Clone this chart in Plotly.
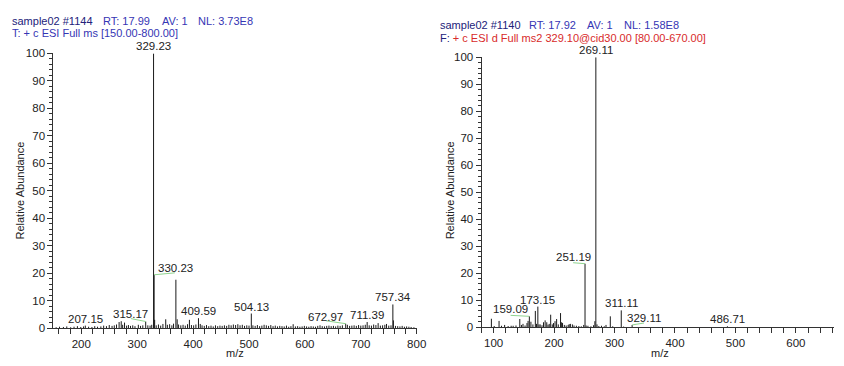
import plotly.graph_objects as go

# ---------------- data ----------------
left_mz = [155, 161, 168, 174, 181, 187, 193, 199, 204, 207.15, 213, 219, 224, 229, 235, 240, 245, 250,
           255, 259, 263, 267.6, 271.4, 274, 277.3, 281, 284.3, 288, 292, 296, 302, 306, 310, 315.17, 319,
           323, 326, 329.23, 330.23, 331.2, 334, 338, 342, 346, 351, 354, 358, 362, 365, 369.2, 371.5, 374,
           378, 382, 386, 390, 393.4, 397, 401, 405, 409.59, 412.8, 416, 420, 424, 428, 432, 436, 440, 444,
           448, 452, 456, 460, 464, 468, 472, 476, 480, 484, 488, 492, 496, 500, 504.13, 507, 511, 515, 519,
           523, 527, 531, 535, 539, 543, 547, 551, 555, 559, 563, 567, 571, 575, 579, 583, 587, 591, 595,
           599, 603, 607, 611, 615, 619, 623, 627, 631, 635, 639, 643, 647, 651, 655, 659, 663, 667, 672.97,
           676, 680, 684, 688, 692, 696, 700, 704, 708, 711.39, 715, 719, 723, 727, 731, 735, 739, 743, 746,
           750, 754, 757.34, 758.34, 762, 766, 770, 774, 778, 782, 786, 790, 795]
left_int = [0.3, 0.5, 0.4, 0.6, 0.3, 0.5, 0.7, 0.4, 0.6, 0.9, 0.5, 0.4, 0.7, 0.5, 0.6, 0.9, 0.7, 1.1,
            0.8, 1.0, 1.3, 2.2, 2.5, 1.2, 2.0, 0.9, 1.1, 0.8, 1.0, 0.7, 1.2, 0.8, 1.0, 2.4, 1.0,
            0.9, 1.2, 100, 19.4, 3.0, 1.0, 1.3, 0.9, 1.5, 3.2, 1.2, 1.4, 1.0, 1.6, 17.6, 3.2, 1.3,
            1.0, 1.2, 0.9, 1.4, 3.0, 1.1, 1.0, 1.3, 3.6, 1.5, 1.0, 0.8, 1.1, 0.7, 0.9, 0.6, 1.0, 0.7,
            0.9, 0.8, 1.0, 0.8, 1.2, 1.0, 1.3, 1.1, 1.4, 1.0, 1.2, 0.8, 1.0, 0.9, 5.3, 1.0, 0.8, 1.1, 0.7,
            0.9, 1.2, 1.0, 0.8, 1.1, 0.7, 0.9, 0.6, 0.8, 0.7, 0.6, 0.9, 0.5, 0.7, 1.4, 0.6, 0.7, 0.5, 0.6,
            0.8, 0.6, 0.5, 0.7, 0.6, 0.5, 0.8, 1.0, 0.7, 0.6, 0.8, 0.9, 0.7, 0.8, 0.6, 0.9, 0.8, 1.0, 1.6,
            1.2, 0.8, 0.9, 1.0, 0.8, 1.1, 0.9, 1.0, 1.2, 2.2, 1.0, 0.9, 1.3, 1.1, 1.8, 0.9, 1.0, 1.2, 1.5,
            0.9, 1.0, 8.6, 2.8, 0.8, 0.7, 0.6, 0.8, 0.5, 0.6, 0.5, 0.4, 0.3]
left_labels = [329.23, 330.23, 207.15, 315.17, 409.59, 504.13, 672.97, 711.39, 757.34]

right_mz = [96.3, 101, 109, 113, 118.2, 124, 129, 132.3, 137, 143.3, 146, 148.6, 152, 155.2, 157, 159.09,
            161.7, 165, 169, 171, 173.15, 175, 177, 180, 182.5, 185.2, 187.9, 190, 192, 194.4, 197, 199,
            201.6, 204.2, 207, 210.7, 212.5, 214, 217, 220, 223.3, 225, 227, 230.3, 233, 236.9, 241, 245,
            249, 251.19, 253, 256, 261, 265.3, 267.5, 269.11, 271, 274, 278.4, 283, 285.9, 293, 297, 311.11,
            315, 329.11, 486.71]
right_int = [3.1, 0.4, 2.3, 0.5, 0.8, 0.4, 0.5, 0.5, 0.6, 3.0, 0.8, 1.2, 0.6, 1.5, 2.3, 4.0,
             2.0, 1.0, 6.0, 1.2, 7.6, 1.0, 1.0, 0.7, 1.8, 2.5, 1.8, 0.9, 1.2, 4.6, 1.0, 1.5,
             2.2, 3.0, 1.0, 5.2, 1.8, 1.5, 0.8, 0.6, 0.8, 1.1, 1.2, 1.0, 0.6, 0.5, 0.4, 0.3,
             0.8, 23.5, 0.6, 0.5, 0.3, 0.7, 2.2, 100, 1.0, 0.4, 0.5, 0.3, 0.8, 4.0, 0.3, 6.2,
             0.2, 0.8, 0.3]
right_labels = [269.11, 251.19, 173.15, 159.09, 311.11, 329.11, 486.71]

left_header = ["sample02 #1144", "RT: 17.99", "AV: 1", "NL: 3.73E8"]
left_scan = "T: + c ESI Full ms [150.00-800.00]"
right_header = ["sample02 #1140", "RT: 17.92", "AV: 1", "NL: 1.58E8"]
right_scan = ("F:", "+ c ESI d Full ms2 329.10@cid30.00 [80.00-670.00]")

x_ticks_step = 100
x_minor_step = 20
y_ticks_step = 10
y_minor_step = 2

# ---------------- styles ----------------
W, H = 844, 366
FONT = "Liberation Sans, Arial, sans-serif"
AXC = "#333333"
left_off = {330.23: (21, 0, 2), 315.17: (-15, 0, 3), 672.97: (-20, 0, 3)}
right_off = {251.19: (-12, 0, 1), 159.09: (-19, 0, 1), 329.11: (12, 0, 2)}

L_DOM = (54, 421.7, 333, 49)   # px: x0, x1, ybottom, ytop
R_DOM = (487.3, 844, 332, 53)
L_RANGE = [150, 800]
R_RANGE = [80, 663]
HEAD_DX = [0, 91.7, 151, 188]


def sticks(mz, inten):
    xs, ys = [], []
    for m, v in zip(mz, inten):
        xs += [m, m, None]
        ys += [0, v, None]
    return xs, ys


fig = go.Figure()
lx, ly = sticks(left_mz, left_int)
rx, ry = sticks(right_mz, right_int)
fig.add_trace(go.Scatter(x=lx, y=ly, mode="lines", line=dict(color="#1a1a1a", width=1),
                         xaxis="x", yaxis="y", hoverinfo="skip", showlegend=False))
fig.add_trace(go.Scatter(x=rx, y=ry, mode="lines", line=dict(color="#1a1a1a", width=1),
                         xaxis="x2", yaxis="y2", hoverinfo="skip", showlegend=False))


def xaxis(dom, rng, anchor):
    return dict(domain=[dom[0] / W, dom[1] / W], range=rng, anchor=anchor,
                showline=True, linecolor=AXC, linewidth=1, mirror=False,
                ticks="outside", ticklen=5, tickcolor=AXC, tickwidth=1,
                tick0=0, dtick=x_ticks_step,
                minor=dict(tick0=0, dtick=x_minor_step, ticks="outside", ticklen=5,
                           tickcolor=AXC, tickwidth=1),
                tickfont=dict(family=FONT, size=11.5, color="#222"),
                showgrid=False, zeroline=False, fixedrange=True)


def yaxis(dom, anchor):
    return dict(domain=[(H - dom[2]) / H, (H - dom[3]) / H], range=[0, 100], anchor=anchor,
                showline=True, linecolor=AXC, linewidth=1,
                ticks="outside", ticklen=5, tickcolor=AXC, tickwidth=1,
                tick0=0, dtick=y_ticks_step,
                minor=dict(tick0=0, dtick=y_minor_step, ticks="outside", ticklen=3,
                           tickcolor=AXC, tickwidth=1),
                tickfont=dict(family=FONT, size=11.5, color="#222"),
                showgrid=False, zeroline=False, fixedrange=True)


annotations = []
shapes = []


def add_labels(labels, mz, inten, offs, xref, yref, dom, rng):
    pxu = (dom[1] - dom[0]) / (rng[1] - rng[0])
    pyu = (dom[2] - dom[3]) / 100.0
    for lab in labels:
        h = inten[mz.index(lab)]
        dx, dy, ly_ = offs.get(lab, (0, 0, 0))
        annotations.append(dict(x=lab, y=h, xref=xref, yref=yref, text=f"{lab:.2f}",
                                showarrow=False, xanchor="center", yanchor="bottom",
                                xshift=dx, yshift=dy, borderpad=0,
                                font=dict(family=FONT, size=11.5, color="#222")))
        if lab in offs:
            shapes.append(dict(type="line", xref=xref, yref=yref,
                               x0=lab, y0=h, x1=lab + dx / pxu, y1=h + ly_ / pyu,
                               line=dict(color="#8fd48f", width=1)))


add_labels(left_labels, left_mz, left_int, left_off, "x", "y", L_DOM, L_RANGE)
add_labels(right_labels, right_mz, right_int, right_off, "x2", "y2", R_DOM, R_RANGE)


def ptxt(x, y, text, size=11, color="#222", angle=0, xanchor="left"):
    annotations.append(dict(x=x / W, y=1 - y / H, xref="paper", yref="paper", text=text,
                            showarrow=False, xanchor=xanchor, yanchor="middle", textangle=angle,
                            font=dict(family=FONT, size=size, color=color)))


NAVY = "#22227a"
BLUE = "#3535b4"
RED = "#d82a2a"
for i, seg in enumerate(left_header):
    ptxt(10.5 + HEAD_DX[i], 15, seg, color=NAVY if i == 0 else BLUE)
ptxt(10.5, 28, left_scan, color=BLUE)
for i, seg in enumerate(right_header):
    ptxt(443.5 + HEAD_DX[i] - (0 if i == 0 else 2), 20, seg, color=NAVY if i == 0 else BLUE)
ptxt(443.5, 33, f'<span style="color:{NAVY}">{right_scan[0]}</span> {right_scan[1]}', color=RED)

ptxt(20, 191, "Relative Abundance", size=11, angle=-90, xanchor="center")
ptxt(455, 191, "Relative Abundance", size=11, angle=-90, xanchor="center")
ptxt(238, 359, "m/z", size=11, xanchor="center")
ptxt(668, 359, "m/z", size=11, xanchor="center")

fig.update_layout(
    width=W, height=H, margin=dict(l=0, r=0, t=0, b=0),
    paper_bgcolor="white", plot_bgcolor="white",
    xaxis=xaxis(L_DOM, L_RANGE, "y"), yaxis=yaxis(L_DOM, "x"),
    xaxis2=xaxis(R_DOM, R_RANGE, "y2"), yaxis2=yaxis(R_DOM, "x2"),
    annotations=annotations, shapes=shapes, showlegend=False,
    font=dict(family=FONT),
)
fig.write_html("out.html", config={"displayModeBar": False, "staticPlot": True},
               post_script="document.body.style.margin='0';document.body.style.overflow='hidden';")
